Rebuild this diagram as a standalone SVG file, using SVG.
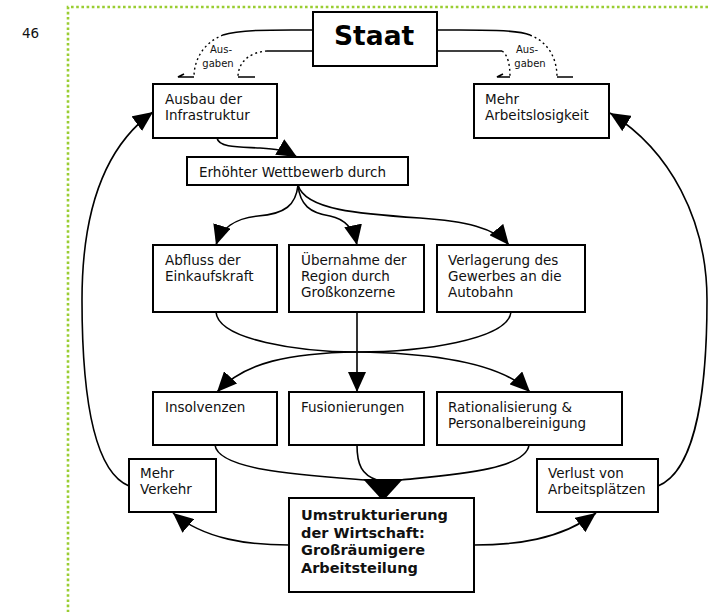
<svg xmlns="http://www.w3.org/2000/svg" width="708" height="612" viewBox="0 0 708 612">
<defs>
<style>
.box{fill:#fff;stroke:#000;stroke-width:2}
.t{font-family:"DejaVu Sans","Verdana",sans-serif;font-size:13.5px;fill:#111}
.b{font-family:"DejaVu Sans","Verdana",sans-serif;font-size:14.5px;font-weight:bold;fill:#111}
.s{font-family:"DejaVu Sans","Verdana",sans-serif;font-size:10px;fill:#111;text-anchor:middle}
.c{fill:none;stroke:#000;stroke-width:1.6}
.ca{fill:none;stroke:#000;stroke-width:1.6;marker-end:url(#ah)}
.d{fill:none;stroke:#000;stroke-width:1.4;stroke-dasharray:2 3}
.frame{fill:none;stroke:#9acd32;stroke-width:2.6;stroke-dasharray:2.6 2.6}
</style>
<marker id="ah" viewBox="0 0 20 18" markerUnits="userSpaceOnUse" markerWidth="20" markerHeight="18" refX="20" refY="9" orient="auto">
<path d="M0,0 L20,9 L0,18 z" fill="#000"/>
</marker>
</defs>
<rect width="708" height="612" fill="#fff"/>
<path class="frame" d="M708,7 H68 V612"/>
<text class="t" x="22" y="38" fill="#222">46</text>

<g id="connectors">
<path class="c" d="M313,30 C280,30 240,29 223,35"/>
<path class="c" d="M313,51 L267,51"/>
<path class="d" d="M223,35 C205,42 194,58 194,77"/>
<path class="d" d="M267,51 C250,52 238,62 238,77"/>
<path class="c" d="M194,77 L178,77 l6,-3 M238,77 L255,77"/>
<path class="c" d="M437,30 C470,30 515,29 530,35"/>
<path class="c" d="M437,51 L502,51"/>
<path class="d" d="M530,35 C548,42 557,58 557,77"/>
<path class="d" d="M502,51 C508,55 510,65 510,77"/>
<path class="c" d="M510,77 L497,77 l6,-3 M557,77 L573,77"/>

<path class="ca" d="M217,138 C219,148 240,147 260,148 C275,149 285,150 297,157"/>
<path class="ca" d="M298,185 C296,205 285,214 258,216 C235,218 221,229 216,245"/>
<path class="ca" d="M298,185 C300,205 310,213 330,216 C345,219 354,230 357,245"/>
<path class="ca" d="M298,185 C305,210 360,214 420,218 C465,221 495,228 509,245"/>
<path class="c" d="M216,312 C218,340 300,352 357,352"/>
<path class="c" d="M511,312 C508,340 420,352 357,352"/>
<path class="ca" d="M357,352 C290,353 245,362 217,392"/>
<path class="ca" d="M357,352 C430,353 500,362 530,392"/>
<path class="ca" d="M357,312 L357,392"/>
<path class="c" d="M215,445 C218,470 300,475 365,480"/>
<path class="c" d="M357,445 C357,465 362,475 377,480"/>
<path class="c" d="M529,445 C526,470 450,475 401,480"/>
<polygon points="363,479 403,479 383,501" fill="#000"/>
<path class="ca" d="M289,545 C250,545 205,540 173,513"/>
<path class="ca" d="M474,545 C515,545 560,540 596,513"/>
<path class="ca" d="M129,486 C90,470 82,380 82,300 C82,220 100,150 153,112"/>
<path class="ca" d="M658,486 C698,470 707,380 707,300 C707,220 670,150 610,113"/>
</g>

<g id="ausgaben-labels">
<text class="s" x="221" y="53">Aus-</text>
<text class="s" x="218" y="67">gaben</text>
<text class="s" x="527" y="53">Aus-</text>
<text class="s" x="530" y="67">gaben</text>
</g>

<g id="staat">
<rect class="box" x="313" y="12" width="124" height="54"/>
<text x="334" y="45" style="font-family:'DejaVu Sans',Verdana,sans-serif;font-size:26.5px;font-weight:bold" fill="#000">Staat</text>
</g>
<g id="ausbau">
<rect class="box" x="153" y="84" width="124" height="54"/>
<text class="t" x="165" y="104">Ausbau der</text>
<text class="t" x="165" y="120">Infrastruktur</text>
</g>
<g id="arbeitslosigkeit">
<rect class="box" x="474" y="84" width="135" height="54"/>
<text class="t" x="485" y="104">Mehr</text>
<text class="t" x="485" y="120">Arbeitslosigkeit</text>
</g>
<g id="wettbewerb">
<rect class="box" x="187" y="157" width="221" height="28"/>
<text class="t" x="199" y="177">Erhöhter Wettbewerb durch</text>
</g>
<g id="abfluss">
<rect class="box" x="153" y="245" width="124" height="67"/>
<text class="t" x="165" y="265">Abfluss der</text>
<text class="t" x="165" y="281">Einkaufskraft</text>
</g>
<g id="uebernahme">
<rect class="box" x="289" y="245" width="135" height="67"/>
<text class="t" x="301" y="265">Übernahme der</text>
<text class="t" x="301" y="281">Region durch</text>
<text class="t" x="301" y="297">Großkonzerne</text>
</g>
<g id="verlagerung">
<rect class="box" x="437" y="245" width="148" height="67"/>
<text class="t" x="448" y="265">Verlagerung des</text>
<text class="t" x="448" y="281">Gewerbes an die</text>
<text class="t" x="448" y="297">Autobahn</text>
</g>
<g id="insolvenzen">
<rect class="box" x="153" y="392" width="124" height="53"/>
<text class="t" x="165" y="412">Insolvenzen</text>
</g>
<g id="fusionierungen">
<rect class="box" x="289" y="392" width="135" height="53"/>
<text class="t" x="301" y="412">Fusionierungen</text>
</g>
<g id="rationalisierung">
<rect class="box" x="437" y="392" width="185" height="53"/>
<text class="t" x="448" y="412">Rationalisierung &amp;</text>
<text class="t" x="448" y="428">Personalbereinigung</text>
</g>
<g id="verkehr">
<rect class="box" x="129" y="459" width="87" height="53"/>
<text class="t" x="140" y="478">Mehr</text>
<text class="t" x="140" y="494">Verkehr</text>
</g>
<g id="verlust">
<rect class="box" x="537" y="459" width="121" height="53"/>
<text class="t" x="548" y="478">Verlust von</text>
<text class="t" x="548" y="494">Arbeitsplätzen</text>
</g>
<g id="umstrukturierung">
<rect class="box" x="289" y="498" width="185" height="94"/>
<text class="b" x="301" y="520">Umstrukturierung</text>
<text class="b" x="301" y="537.5">der Wirtschaft:</text>
<text class="b" x="301" y="555">Großräumigere</text>
<text class="b" x="301" y="572.5">Arbeitsteilung</text>
</g>
</svg>
